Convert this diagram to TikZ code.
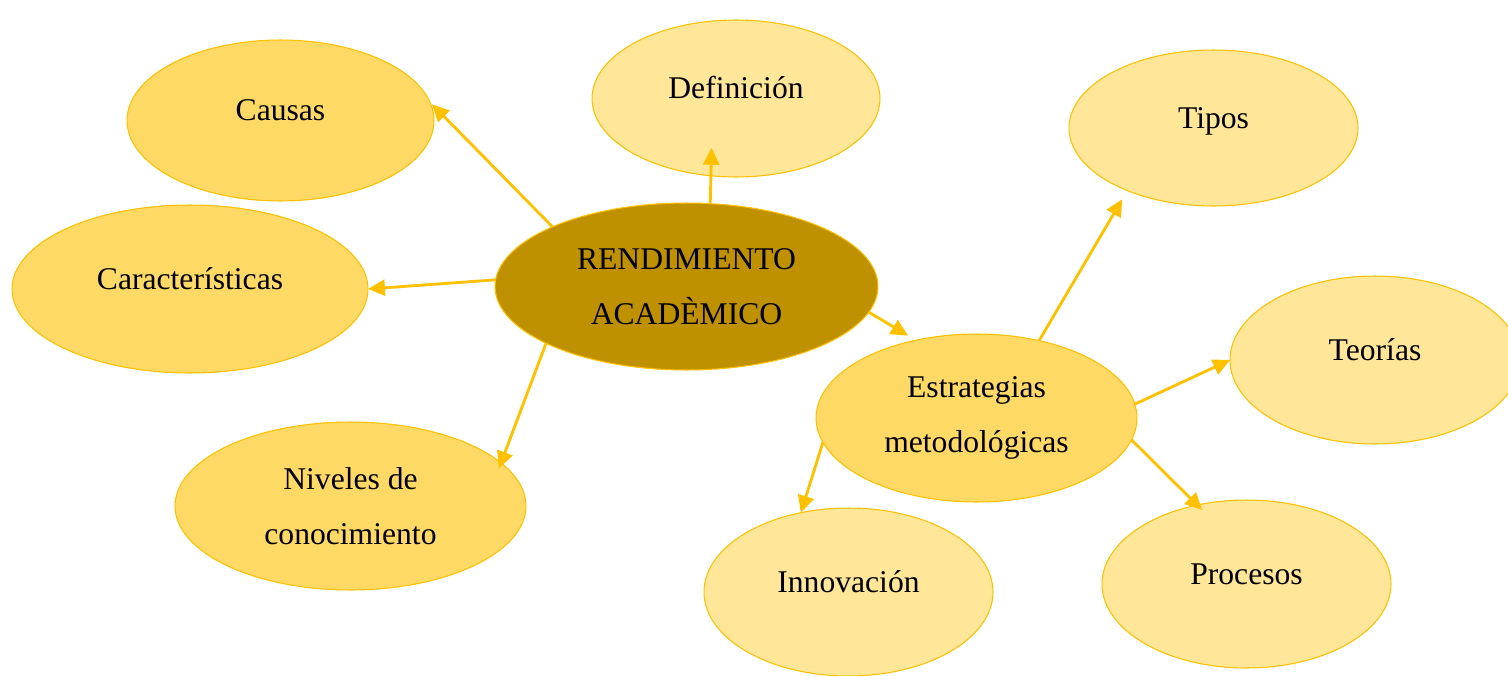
\documentclass[tikz,border=0pt]{standalone}
\usepackage{fontspec}
\setmainfont{Liberation Serif}
\usetikzlibrary{arrows.meta, shapes.geometric}
\definecolor{goldline}{HTML}{FFC000}
\definecolor{goldlight}{HTML}{FFE699}
\definecolor{goldmid}{HTML}{FFD966}
\definecolor{golddark}{HTML}{BF9000}

\begin{document}
\begin{tikzpicture}[x=0.02cm, y=-0.02cm,
    bubble/.style={ellipse, draw=goldline, line width=0.6pt, inner sep=0pt, outer sep=0pt,
        font=\fontsize{18}{31.3}\selectfont},
    oneline/.style={text height=0.45cm, text depth=0.45cm},
    link/.style={draw=goldline, line width=1.6pt, -{Triangle[length=0.34cm, width=0.32cm]}}]
\useasboundingbox (0,0) rectangle (1508,676);

\node[bubble, fill=golddark, minimum width=7.66cm, minimum height=3.34cm, align=center] (rend) at (686.5,286.5) {RENDIMIENTO\\ACADÈMICO};
\node[bubble, oneline, fill=goldmid, minimum width=6.14cm, minimum height=3.22cm] (causas) at (280.5,120.5) {Causas};
\node[bubble, oneline, fill=goldlight, minimum width=5.76cm, minimum height=3.14cm] (def) at (736,98.5) {Definición};
\node[bubble, oneline, fill=goldlight, minimum width=5.78cm, minimum height=3.12cm] (tipos) at (1213.5,128) {Tipos};
\node[bubble, oneline, fill=goldmid, minimum width=7.12cm, minimum height=3.36cm] (car) at (190,289) {Características};
\node[bubble, oneline, fill=goldlight, minimum width=5.8cm, minimum height=3.36cm] (teorias) at (1375,360) {Teorías};
\node[bubble, fill=goldmid, minimum width=6.42cm, minimum height=3.36cm, align=center] (estr) at (976.5,418) {Estrategias\\metodológicas};
\node[bubble, fill=goldmid, minimum width=7.02cm, minimum height=3.36cm, align=center] (niveles) at (350.5,506) {Niveles de\\conocimiento};
\node[bubble, oneline, fill=goldlight, minimum width=5.78cm, minimum height=3.36cm] (innov) at (848.5,592) {Innovación};
\node[bubble, oneline, fill=goldlight, minimum width=5.78cm, minimum height=3.36cm] (proc) at (1246.5,584) {Procesos};

\foreach \from/\to/\sh in {rend.156/causas.7/0.06cm, rend.74/def.252/-0.56cm, rend.178/car.0/0cm,
    rend.202/niveles.16/-0.12cm, rend.-8/estr.128/0.18cm, estr.51/tipos.216/0.2cm,
    estr.5/teorias.180/0cm, estr.-8/proc.122/-0.14cm, estr.189/innov.121/0cm} {
    \draw[link, shorten >=\sh] (\from) -- (\to);
}
\end{tikzpicture}
\end{document}
